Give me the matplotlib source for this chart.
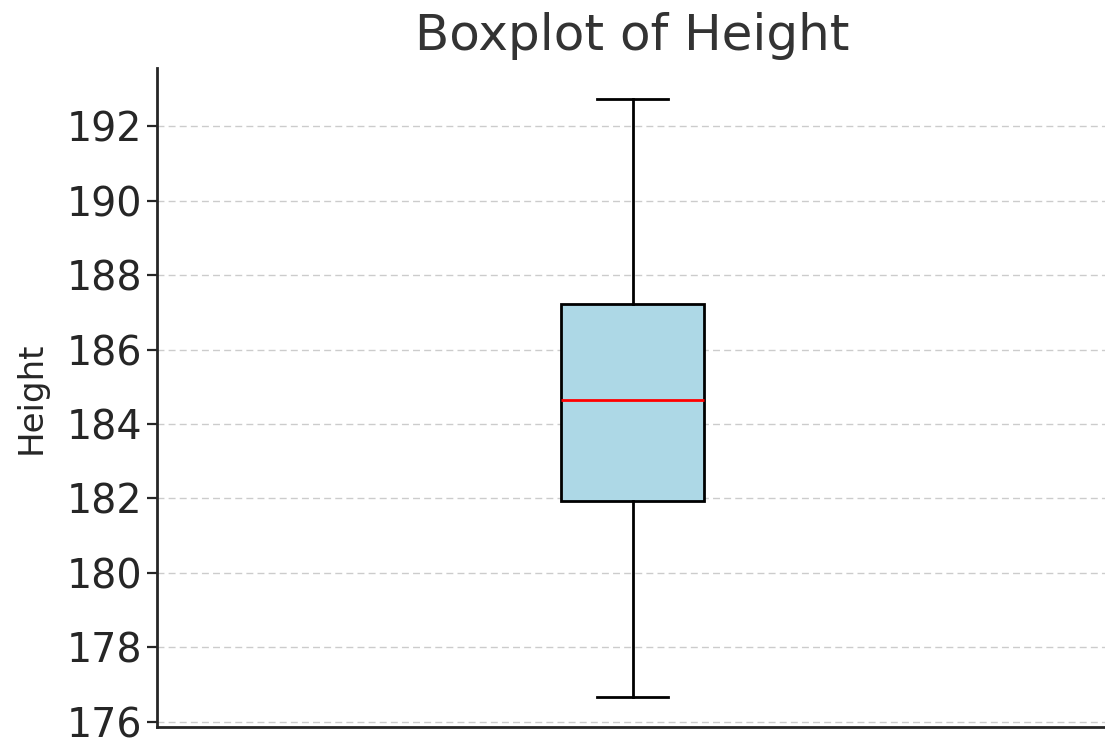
import matplotlib
matplotlib.use('Agg')
import matplotlib.pyplot as plt

# box statistics
label = 'Height'
whisker_low = 176.67
q1 = 181.93
median = 184.64
q3 = 187.22
whisker_high = 192.72

stats = [{'label': '', 'whislo': whisker_low, 'q1': q1, 'med': median,
          'q3': q3, 'whishi': whisker_high, 'fliers': []}]

fig = plt.figure(figsize=(11.05, 7.4), dpi=100)
ax = fig.add_axes([0.142, 0.018, 0.861, 0.89])

ax.bxp(stats, positions=[1], widths=0.15, patch_artist=True,
       boxprops=dict(facecolor='#ADD8E6', edgecolor='black', linewidth=2.0),
       medianprops=dict(color='red', linewidth=2.0),
       whiskerprops=dict(color='black', linewidth=2.0),
       capprops=dict(color='black', linewidth=2.0))

ax.set_xlim(0.5, 1.5)
ax.set_ylim(175.87, 193.56)
ax.set_yticks([176, 178, 180, 182, 184, 186, 188, 190, 192])
ax.set_xticks([])

ax.yaxis.grid(True, linestyle=(0, (5, 3)), linewidth=1.0, color='#cccccc')
ax.set_axisbelow(True)

for s in ['top', 'right']:
    ax.spines[s].set_visible(False)
for s in ['left', 'bottom']:
    ax.spines[s].set_linewidth(2.0)
    ax.spines[s].set_color('#262626')

ax.tick_params(axis='y', labelsize=28.5, length=7, width=1.6,
               colors='#262626', pad=3.5)

ax.set_ylabel(label, fontsize=24.5, color='#262626', labelpad=14)
ax.set_title('Boxplot of Height', fontsize=36, color='#333333', pad=13)

fig.savefig('out.png', dpi=100)
